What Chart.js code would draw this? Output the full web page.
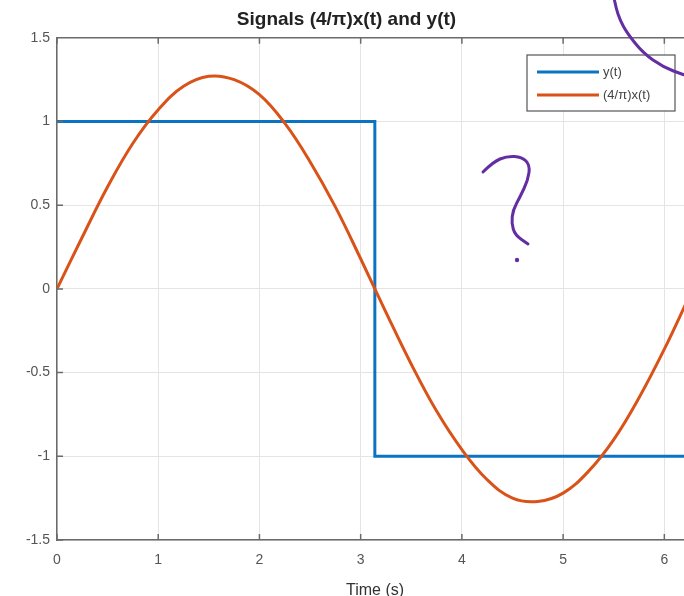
<!DOCTYPE html>
<html>
<head>
<meta charset="utf-8">
<script src="https://cdn.jsdelivr.net/npm/chart.js@4.4.1/dist/chart.umd.min.js"></script>
<style>
  html, body { margin: 0; padding: 0; background: #fff; overflow: hidden; }
  #clip { width: 684px; height: 596px; overflow: hidden; position: relative; }
  #box { width: 700px; height: 612px; position: absolute; left: 0; top: 0; }
</style>
</head>
<body>
<div id="clip"><div id="box"><canvas id="chart"></canvas></div></div>
<script>
// values
const titleText = 'Signals (4/\u03c0)x(t) and y(t)';
const xLabel = 'Time (s)';
const seriesNames = ['y(t)', '(4/\u03c0)x(t)'];
const seriesColors = ['#0a74c2', '#D95319'];

// square wave y(t): corners of the step
const yT = [0, 3.14, 3.14, 6.2832];
const yV = [1, 1, -1, -1];

// (4/pi)x(t) sampled every 0.25 s
const xT = [0, 0.25, 0.5, 0.75, 1, 1.25, 1.5, 1.75, 2, 2.25, 2.5, 2.75, 3, 3.25,
  3.5, 3.75, 4, 4.25, 4.5, 4.75, 5, 5.25, 5.5, 5.75, 6, 6.25, 6.2832];
const xV = [0, 0.31, 0.61, 0.87, 1.07, 1.21, 1.27, 1.25, 1.16, 0.99, 0.76, 0.49, 0.18, -0.14,
  -0.45, -0.73, -0.96, -1.14, -1.25, -1.27, -1.22, -1.09, -0.90, -0.65, -0.36, -0.04, 0];

const xTicks = [0, 1, 2, 3, 4, 5, 6];
const yTicks = [-1.5, -1, -0.5, 0, 0.5, 1, 1.5];

const FONT = "'Liberation Sans', Arial, Helvetica, sans-serif";
const AXIS = '#6b6b6b';

// MATLAB-like frame: top border, inward ticks, boxed legend, pen marks
const framePlugin = {
  id: 'frame',
  afterDatasetsDraw(chart) {
    const { ctx, chartArea: a, scales: { x, y } } = chart;
    ctx.save();
    ctx.strokeStyle = AXIS;
    ctx.lineWidth = 1.5;
    ctx.beginPath();
    ctx.moveTo(a.left, a.top);
    ctx.lineTo(a.right, a.top);
    xTicks.forEach(v => {
      const px = x.getPixelForValue(v);
      ctx.moveTo(px, a.bottom); ctx.lineTo(px, a.bottom - 6);
      ctx.moveTo(px, a.top); ctx.lineTo(px, a.top + 6);
    });
    yTicks.forEach(v => {
      const py = y.getPixelForValue(v);
      ctx.moveTo(a.left, py); ctx.lineTo(a.left + 6, py);
    });
    ctx.stroke();

    // legend box
    const lx = 527, ly = 55, lw = 148, lh = 56;
    ctx.fillStyle = '#fff';
    ctx.fillRect(lx, ly, lw, lh);
    ctx.strokeStyle = '#555';
    ctx.lineWidth = 1.2;
    ctx.strokeRect(lx, ly, lw, lh);
    ctx.font = '13px ' + FONT;
    ctx.textBaseline = 'middle';
    ctx.fillStyle = '#444';
    chart.data.datasets.forEach((ds, i) => {
      const ry = ly + 17 + i * 23;
      ctx.strokeStyle = ds.borderColor;
      ctx.lineWidth = 3;
      ctx.beginPath();
      ctx.moveTo(lx + 10, ry); ctx.lineTo(lx + 72, ry);
      ctx.stroke();
      ctx.fillText(ds.label, lx + 76, ry);
    });
    ctx.restore();
  },
  afterDraw(chart) {
    const { ctx } = chart;
    const stroke = pts => {
      ctx.beginPath();
      ctx.moveTo(pts[0][0], pts[0][1]);
      for (let i = 1; i < pts.length - 1; i++) {
        const mx = (pts[i][0] + pts[i + 1][0]) / 2, my = (pts[i][1] + pts[i + 1][1]) / 2;
        ctx.quadraticCurveTo(pts[i][0], pts[i][1], mx, my);
      }
      const l = pts[pts.length - 1];
      ctx.lineTo(l[0], l[1]);
      ctx.stroke();
    };
    ctx.save();
    ctx.strokeStyle = '#642ea3';
    ctx.fillStyle = '#642ea3';
    ctx.lineWidth = 3;
    ctx.lineCap = 'round';
    ctx.lineJoin = 'round';
    stroke([[483, 172], [493, 162], [507, 156], [522, 157], [530, 165], [528, 180],
      [520, 197], [513, 210], [511.5, 223], [515, 235], [528, 244]]);
    ctx.beginPath();
    ctx.arc(517, 260, 2.2, 0, Math.PI * 2);
    ctx.fill();
    stroke([[614, -2], [616, 8], [620, 20], [627, 33], [643, 53], [663, 67], [684, 75], [692, 77]]);
    ctx.restore();
  }
};

new Chart(document.getElementById('chart'), {
  type: 'line',
  data: {
    datasets: [
      {
        label: seriesNames[0],
        data: yT.map((t, i) => ({ x: t, y: yV[i] })),
        borderColor: seriesColors[0],
        borderWidth: 3,
        tension: 0,
        pointRadius: 0,
        order: 1,
      },
      {
        label: seriesNames[1],
        data: xT.map((t, i) => ({ x: t, y: xV[i] })),
        borderColor: seriesColors[1],
        borderWidth: 3,
        tension: 0.4,
        pointRadius: 0,
        order: 0,
      },
    ],
  },
  options: {
    responsive: true,
    maintainAspectRatio: false,
    animation: false,
    layout: { padding: { left: 0, right: 7, top: 0, bottom: 0 } },
    plugins: {
      legend: { display: false },
      tooltip: { enabled: false },
      title: {
        display: true,
        text: titleText,
        color: '#222',
        font: { family: FONT, size: 19, weight: 'bold' },
        padding: { top: 8, bottom: 7 },
      },
    },
    scales: {
      x: {
        type: 'linear',
        min: 0,
        max: 6.2832,
        afterBuildTicks: s => { s.ticks = xTicks.map(v => ({ value: v })); },
        afterFit: s => { s.height = 72; },
        grid: { color: '#e4e4e4', lineWidth: 1, drawTicks: false },
        border: { color: AXIS, width: 1.5 },
        ticks: { color: '#555', padding: 12, font: { family: FONT, size: 14 }, maxRotation: 0 },
        title: { display: true, text: xLabel, color: '#333', font: { family: FONT, size: 16 }, padding: { top: 12, bottom: 12 } },
      },
      y: {
        type: 'linear',
        min: -1.5,
        max: 1.5,
        afterBuildTicks: s => { s.ticks = yTicks.map(v => ({ value: v })); },
        afterFit: s => { s.width = 57; },
        grid: { color: '#e4e4e4', lineWidth: 1, drawTicks: false },
        border: { color: AXIS, width: 1.5 },
        ticks: { color: '#555', padding: 7, font: { family: FONT, size: 14 }, callback: v => String(v) },
      },
    },
  },
  plugins: [framePlugin],
});
</script>
</body>
</html>
